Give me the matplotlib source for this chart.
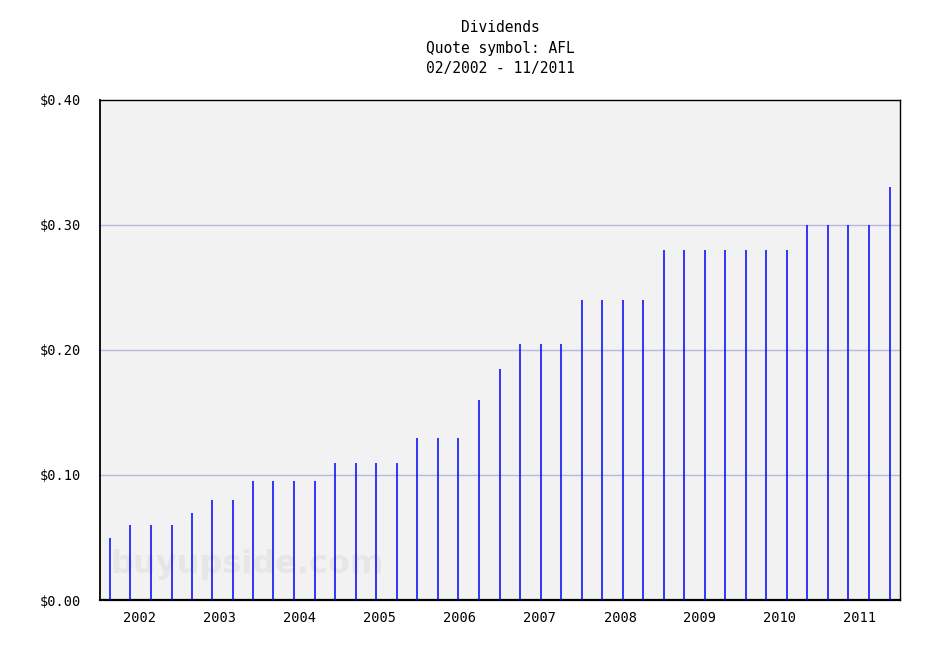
import matplotlib
matplotlib.use("Agg")
import matplotlib.pyplot as plt
import pandas as pd

# ex-dividend dates and amounts per share
pay_dates = [
    "2002-02-15", "2002-05-18", "2002-08-22", "2002-11-24",
    "2003-02-25", "2003-05-27", "2003-08-29", "2003-11-29",
    "2004-03-02", "2004-06-06", "2004-09-09", "2004-12-09",
    "2005-03-14", "2005-06-14", "2005-09-16", "2005-12-16",
    "2006-03-25", "2006-06-25", "2006-09-27", "2007-01-01",
    "2007-04-01", "2007-07-05", "2007-10-05", "2008-01-11",
    "2008-04-12", "2008-07-16", "2008-10-16", "2009-01-19",
    "2009-04-20", "2009-07-24", "2009-10-23", "2010-01-30",
    "2010-05-01", "2010-08-04", "2010-11-03", "2011-02-06",
    "2011-05-08", "2011-08-11", "2011-11-15",
]
dividends = [
    0.05, 0.06, 0.06, 0.06,
    0.07, 0.08, 0.08, 0.095,
    0.095, 0.095, 0.095, 0.11,
    0.11, 0.11, 0.11, 0.13,
    0.13, 0.13, 0.16, 0.185,
    0.205, 0.205, 0.205, 0.24,
    0.24, 0.24, 0.24, 0.28,
    0.28, 0.28, 0.28, 0.28,
    0.28, 0.28, 0.30, 0.30,
    0.30, 0.30, 0.33,
]
years = list(range(2002, 2012))
y_ticks = [0.0, 0.1, 0.2, 0.3, 0.4]

MONO = "DejaVu Sans Mono"
BAR_BLUE = "#0000ff"
GRID = "#b8b8dc"
PANEL = "#f2f2f2"

dates = pd.to_datetime(pay_dates)

fig = plt.figure(figsize=(9.5, 6.5), dpi=100)
ax = fig.add_axes([100 / 950, 50 / 650, 800 / 950, 500 / 650])
ax.set_facecolor(PANEL)

ax.vlines(dates, 0, dividends, color=BAR_BLUE, linewidth=1.1, zorder=3)

ax.set_xlim(pd.Timestamp("2002-01-01"), pd.Timestamp("2012-01-01"))
ax.set_ylim(0, 0.40)

# year labels sit in the middle of each year
ax.set_xticks([pd.Timestamp(f"{y}-07-02") for y in years])
ax.set_xticklabels([str(y) for y in years], family=MONO, fontsize=9.8)
ax.set_yticks(y_ticks)
ax.set_yticklabels([f"${v:.2f}" for v in y_ticks], family=MONO, fontsize=9.8)
ax.tick_params(length=0)
ax.tick_params(axis="x", pad=8)
ax.tick_params(axis="y", pad=14)

for v in y_ticks[1:-1]:
    ax.axhline(v, color=GRID, linewidth=1, zorder=1)

for s in ax.spines.values():
    s.set_color("black")
    s.set_linewidth(1)
ax.spines["bottom"].set_linewidth(1.6)
ax.spines["left"].set_linewidth(1.3)

# faint watermark
ax.text(0.0125, 0.07, "buyupside.com", transform=ax.transAxes, fontsize=23,
        fontweight="bold", color="#e6e6e6", family="DejaVu Sans", zorder=2,
        va="center", ha="left")

title = "Dividends\nQuote symbol: AFL\n02/2002 - 11/2011"
fig.text(500 / 950, 1 - 48 / 650, title, ha="center", va="center",
         family=MONO, fontsize=10.5, linespacing=1.45)

fig.savefig("out.png", dpi=100, facecolor="white")
